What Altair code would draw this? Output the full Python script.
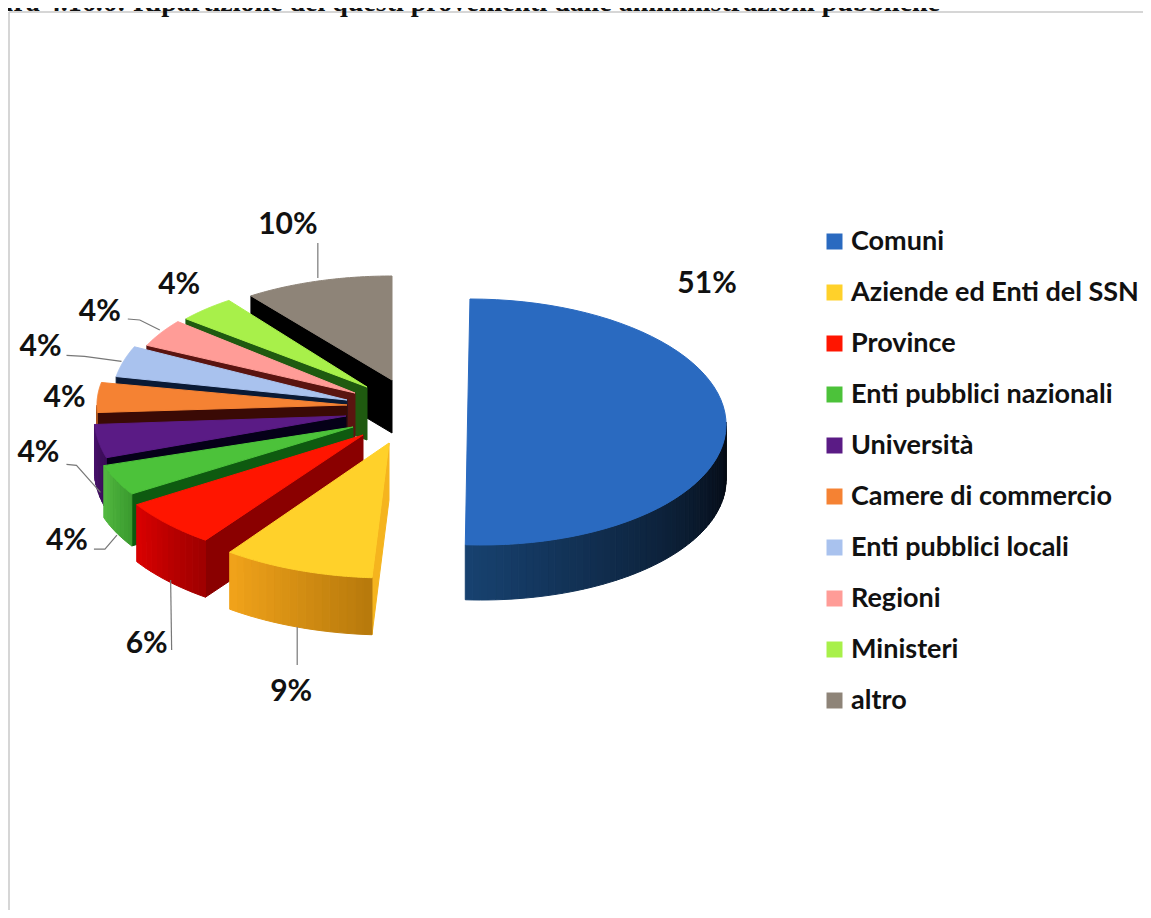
import math
import altair as alt

categories = ["Comuni", "Aziende ed Enti del SSN", "Province", "Enti pubblici nazionali", "Università",
              "Camere di commercio", "Enti pubblici locali", "Regioni", "Ministeri", "altro"]
values = [51, 9, 6, 4, 4, 4, 4, 4, 4, 10]
labels = ["51%", "9%", "6%", "4%", "4%", "4%", "4%", "4%", "4%", "10%"]
top_colors = ["#2A6AC0", "#FFD12A", "#FF1500", "#4CC23A", "#5A1B85", "#F58233", "#A9C2EE", "#FF9C97", "#A8F04A", "#8E8478"]
wall_near = ["#04070E", "#B87A0C", "#A00000", "#3C9C30", "#3A0D58", "#A8521C", "#7F92B5", "#C07470", "#7FB438", "#5E574F"]
wall_far = ["#17416F", "#F0A21A", "#D80000", "#52B840", "#47116B", "#A8521C", "#7F92B5", "#C07470", "#7FB438", "#5E574F"]
side_colors = ["#0A1A30", "#F5B41E", "#8A0000", "#0E5A10", "#050018", "#3A0A05", "#0A1A35", "#5A1410", "#1F5A10", "#000000"]

# Layout of the tilted, exploded pie: hub of each slice, ellipse radii, shear and depth (page pixels)
M = 8
hub = [(475.5, 422), (389, 443), (363, 435), (353, 427), (346, 416), (347, 405), (347, 400), (355, 393), (367, 387), (392, 380)]
pivot_shift = [-8, 0, 0, 0, 0, 0, 0, 0, 0, 0]
radii = [(250.5, 123), (271, 135), (268, 130), (262, 125), (252, 135), (250, 120), (235, 125), (230, 112), (235, 107), (240, 104)]
shear = [0.045, 0, 0, 0, 0, 0, 0, 0, 0, 0]
depths = [55, 57, 57, 52, 52, 53, 53, 53, 53, 53]
label_shift = [(-19, -142), (-6, 122), (-21, 120), (-49, 61), (-60, 12), (-33, 1), (-83, -14), (-61, -21), (-27, -24), (-30, -56)]
leader_shift = [None, [(0, 95), (0, 57)], [(4, 126), (3, 56)], [(-22, 69), (-11, 69), (1, 55)],
                [(-32, 23), (-22, 24), (2, 51)], None, [(-57, -6), (-39, -5), (-2, 0)],
                [(-33, -14), (-21, -13), (-1, -3)], None, [(0, -38), (0, -3)]]

total = sum(values)
spans, acc = [], 0
for v in values:
    spans.append((acc / total * 2 * math.pi, (acc + v) / total * 2 * math.pi))
    acc += v


def rim(i, t, drop=0):
    (cx, cy), (rx, ry) = hub[i], radii[i]
    dy = -ry * math.cos(t)
    return [cx + rx * math.sin(t) + shear[i] * dy - M, cy + dy - M + drop]


def mix(a, b, f):
    pa = [int(a[k:k + 2], 16) for k in (1, 3, 5)]
    pb = [int(b[k:k + 2], 16) for k in (1, 3, 5)]
    return "#%02x%02x%02x" % tuple(round(x + (y - x) * f) for x, y in zip(pa, pb))


def poly(points, fill):
    return {"type": "Feature", "properties": {"fill": fill},
            "geometry": {"type": "Polygon", "coordinates": [points + [points[0]]]}}


features = []
for i in reversed(range(len(values))):
    a, b = spans[i]
    d = depths[i]
    c = [hub[i][0] + pivot_shift[i] - M, hub[i][1] - M]
    # radial wall (the wall at the top of the pie faces away from the viewer)
    if a > 0:
        features.append(poly([c, rim(i, a), rim(i, a, d), [c[0], c[1] + d]], side_colors[i]))
    # outer wall, only the part that faces the viewer, shaded in steps
    lo, hi = max(a, math.pi / 2), min(b, 1.5 * math.pi)
    if hi > lo:
        steps = max(6, int((hi - lo) / 0.03))
        for s in range(steps):
            t0 = lo + (hi - lo) * s / steps
            t1 = lo + (hi - lo) * (s + 1) / steps
            features.append(poly([rim(i, t0), rim(i, t1), rim(i, t1, d), rim(i, t0, d)],
                                 mix(wall_near[i], wall_far[i], s / max(1, steps - 1))))
    # top face
    arc = [rim(i, a + (b - a) * s / 60) for s in range(61)]
    features.append(poly([c] + arc, top_colors[i]))

leaders, label_rows = [], []
for i in range(len(values)):
    mid = sum(spans[i]) / 2
    ox, oy = rim(i, mid)
    dx, dy = label_shift[i]
    label_rows.append({"lon": ox + dx, "lat": oy + dy, "text": labels[i]})
    if leader_shift[i]:
        leaders.append({"type": "Feature", "properties": {},
                        "geometry": {"type": "LineString",
                                     "coordinates": [[ox + p, oy + q] for p, q in leader_shift[i]]}})

proj = dict(type="identity", scale=1, translate=[0, 0])

slices = alt.Chart(alt.InlineData(values={"type": "FeatureCollection", "features": features},
                                  format=alt.DataFormat(type="json", property="features"))).mark_geoshape(
    strokeWidth=1).encode(
    fill=alt.Fill("properties.fill:N", scale=None, legend=None),
    stroke=alt.Stroke("properties.fill:N", scale=None, legend=None),
).project(**proj)

lines = alt.Chart(alt.InlineData(values={"type": "FeatureCollection", "features": leaders},
                                 format=alt.DataFormat(type="json", property="features"))).mark_geoshape(
    filled=False, stroke="#777777", strokeWidth=1.2).project(**proj)

texts = alt.Chart(alt.Data(values=label_rows)).mark_text(
    font="Lato", fontSize=30, fontWeight="bold", color="#111111", align="center", baseline="middle").encode(
    longitude="lon:Q", latitude="lat:Q", text="text:N").project(**proj)

legend_layer = alt.Chart(alt.Data(values=[{"categoria": c} for c in categories])).mark_square(opacity=0).encode(
    x=alt.value(0), y=alt.value(0),
    color=alt.Color("categoria:N", sort=categories,
                    scale=alt.Scale(domain=categories, range=top_colors),
                    legend=alt.Legend(title=None, orient="none", legendX=813, legendY=220, symbolType="square",
                                      symbolSize=256, symbolOpacity=1, symbolStrokeWidth=0, labelFont="Lato",
                                      labelFontSize=27, labelFontWeight="bold", labelColor="#111111", labelOffset=3,
                                      rowPadding=23, labelLimit=400, values=categories)),
)

frame_left = alt.Chart(alt.Data(values=[{"a": 1}])).mark_rule(color="#c9c9c9", strokeWidth=1.5).encode(
    x=alt.value(1), y=alt.value(4), y2=alt.value(902))
frame_top = alt.Chart(alt.Data(values=[{"a": 1}])).mark_rule(color="#c9c9c9", strokeWidth=1.5).encode(
    y=alt.value(4), x=alt.value(1), x2=alt.value(1135))
heading = alt.Chart(alt.Data(values=[{"a": 1}])).mark_text(
    text="Figura 4.16.6: Ripartizione dei questi provenienti dalle amministrazioni pubbliche",
    font="Liberation Serif", fontSize=28, fontWeight="bold", color="#111111", align="right", baseline="alphabetic").encode(
    x=alt.value(932), y=alt.value(3))

chart = alt.layer(frame_left, frame_top, heading, slices, lines, texts, legend_layer).resolve_scale(
    color="independent", fill="independent", stroke="independent"
).properties(width=1135, height=902, padding=0, autosize=alt.AutoSizeParams(type="none"),
             background="#ffffff").configure_view(stroke=None)

chart.save("out.html", embed_options={"renderer": "svg", "actions": False})
